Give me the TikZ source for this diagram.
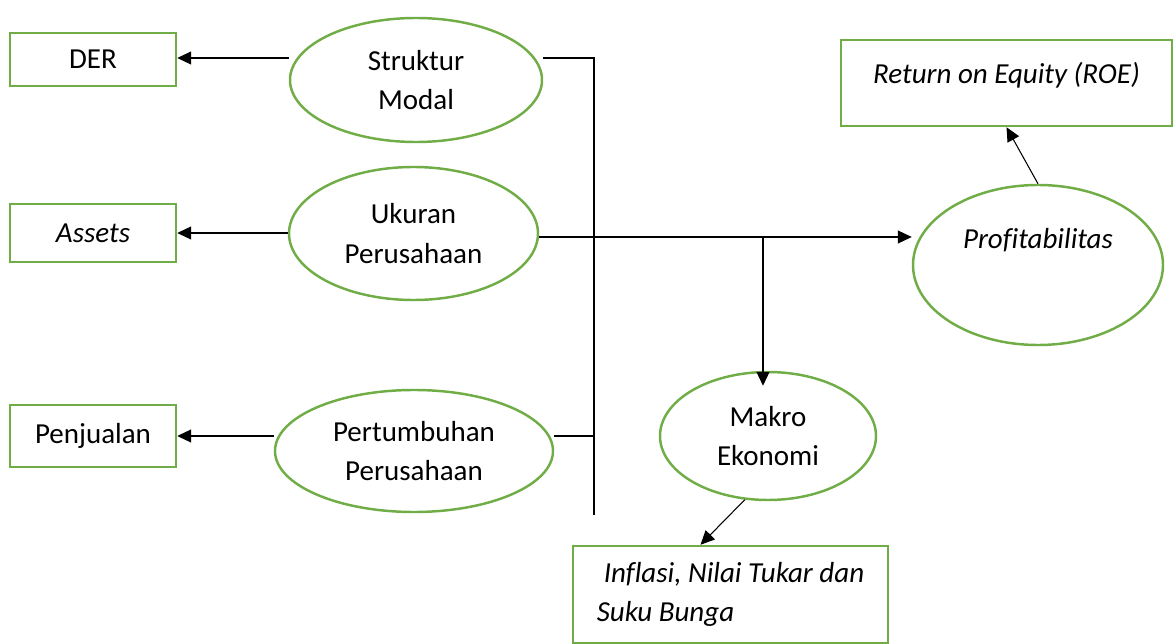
\documentclass[tikz,border=0pt]{standalone}
\usepackage{fontspec}
\setmainfont{Carlito}[Ligatures=CommonOff]
\usetikzlibrary{arrows.meta, positioning, calc, shapes.geometric}
\definecolor{boxgreen}{RGB}{112,173,71}
\tikzset{
    varbox/.style={draw=boxgreen, line width=1.4pt, rectangle, minimum width=3.32cm},
    varellipse/.style={draw=boxgreen, line width=1.4pt, ellipse, align=center},
    link/.style={line width=0.6pt},
    arrowlink/.style={line width=0.6pt, -{Triangle[length=0.28cm,width=0.26cm]}}
}
\begin{document}
\fontsize{16.5}{22.5}\selectfont
\begin{tikzpicture}
    		\useasboundingbox (0,0) rectangle (23.46,-12.88);

    		% Indicators (left)
    		\node (DER) at (1.86,-1.19) [varbox, minimum height=1.06cm]{DER};
    		\node (Assets) at (1.86,-4.66) [varbox, minimum height=1.16cm]{\itshape Assets};
    		\node (Penjualan) at (1.86,-8.72) [varbox, minimum height=1.24cm]{Penjualan};

    		% Variables
    		\node (StrukturModal) at (8.32,-1.6) [varellipse, minimum width=5.04cm, minimum height=2.48cm]{Struktur\\Modal};
    		\node (UkuranPerusahaan) at (8.27,-4.67) [varellipse, minimum width=4.98cm, minimum height=2.66cm]{Ukuran\\Perusahaan};
    		\node (PertumbuhanPerusahaan) at (8.28,-9.02) [varellipse, minimum width=5.56cm, minimum height=2.44cm]{Pertumbuhan\\Perusahaan};

    		\coordinate (StrukturOut) at ($(StrukturModal.west)+(0,0.44)$);
    		\draw[arrowlink] (StrukturOut) -- (StrukturOut -| DER.east);
    		\draw[arrowlink] (UkuranPerusahaan.west |- Assets.east) -- (Assets.east);
    		\draw[arrowlink] (PertumbuhanPerusahaan.west |- Penjualan.east) -- (Penjualan.east);

    		% Profitabilitas
    		\node (ProfitabilitasBox) at (20.76,-5.3) [varellipse, minimum width=5.0cm, minimum height=3.2cm]{};
    		\node (Profitabilitas) at ($(ProfitabilitasBox)+(0,0.5)$) [font=\itshape]{Profitabilitas};

    		\node (ROEBox) at (20.13,-1.66) [varbox, minimum width=6.62cm, minimum height=1.72cm]{};
    		\node (ROE) at ($(ROEBox)+(0,0.16)$) [font=\itshape]{Return on Equity (ROE)};

    		\draw[arrowlink] (ProfitabilitasBox.north) -- (ROEBox.south);

    		% Makro Ekonomi
    		\node (MakroEkonomi) at (15.36,-8.72) [varellipse, minimum width=4.32cm, minimum height=2.56cm]{Makro\\Ekonomi};
    		\node (Inflasi) at (14.61,-11.89) [varbox, minimum width=6.3cm, minimum height=1.94cm, align=left, font=\itshape]{\hspace{0.14cm}Inflasi, Nilai Tukar dan\\Suku Bunga};

    		\draw[arrowlink] (MakroEkonomi.250) -- ($(Inflasi.north)+(-0.6,0)$);

    		%%%%%%%%%%%%%%%%%%%
    		% Bus line
    		\coordinate (BusTop) at (11.88,-1.16);
    		\coordinate (BusBottom) at (11.88,-10.3);
    		\draw[link] (BusTop -| StrukturModal.east) -- (BusTop) -- (BusBottom);
    		\draw[link] (Penjualan.east -| PertumbuhanPerusahaan.east) -- (Penjualan.east -| BusTop);

    		\coordinate (MakroBranch) at ($(UkuranPerusahaan.east -| MakroEkonomi.north)+(-0.1,-0.07)$);
    		\draw[arrowlink] ($(UkuranPerusahaan.east)+(0,-0.07)$) -- (MakroBranch -| ProfitabilitasBox.west);
    		\draw[arrowlink] (MakroBranch) -- ($(MakroEkonomi.north)+(-0.1,-0.3)$);

\end{tikzpicture}
\end{document}
